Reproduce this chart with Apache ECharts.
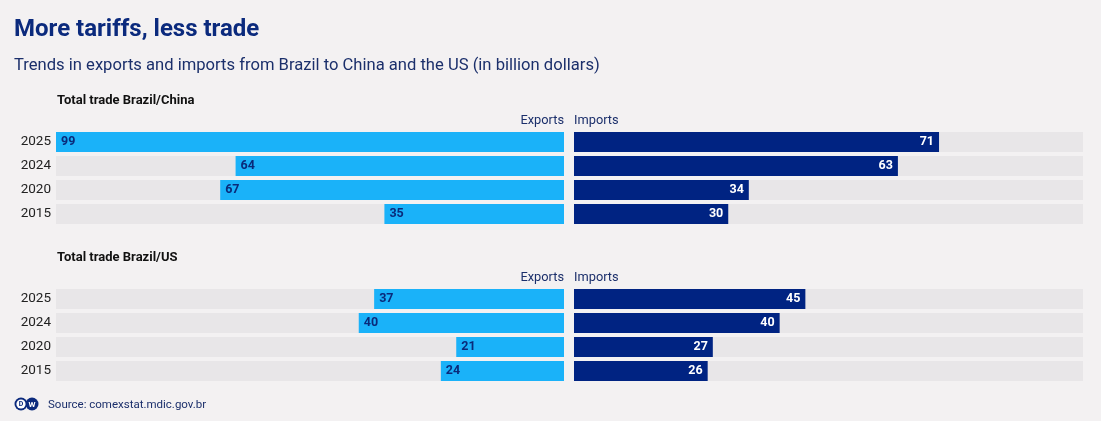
<!DOCTYPE html>
<html>
<head>
<meta charset="utf-8">
<script src="https://cdn.jsdelivr.net/npm/echarts@6/dist/echarts.min.js"></script>
<style>
  html, body { margin: 0; padding: 0; background: #f3f1f2; }
  #chart { width: 1101px; height: 421px; }
</style>
</head>
<body>
<div id="chart"></div>
<script>
// data (billion dollars)
const years = ['2025', '2024', '2020', '2015'];
const chinaExports = [99, 64, 67, 35];
const chinaImports = [71, 63, 34, 30];
const usExports = [37, 40, 21, 24];
const usImports = [45, 40, 27, 26];
const axisMax = 99;

const C = { bg: '#f3f1f2', track: '#e8e6e8', exp: '#1ab2f9', imp: '#002382', navy: '#0b2a7d', text: '#1b2f6b' };
const FONT = 'Roboto, "Noto Sans", sans-serif';

const chart = echarts.init(document.getElementById('chart'));

// two panels: china on top, us below
const panels = [{ top: 130, exp: chinaExports, imp: chinaImports }, { top: 287, exp: usExports, imp: usImports }];

const grids = [], xAxes = [], yAxes = [], series = [];
panels.forEach((p, i) => {
    grids.push({ left: 56, width: 508, top: p.top, height: 96 });
    grids.push({ left: 574, width: 509, top: p.top, height: 96 });
    [0, 1].forEach(side => {
        const gi = i * 2 + side;
        xAxes.push({ gridIndex: gi, type: 'value', min: 0, max: axisMax, inverse: side === 0, show: false });
        yAxes.push({ gridIndex: gi, type: 'category', data: years, inverse: true,
            axisLine: { show: false }, axisTick: { show: false },
            axisLabel: { show: side === 0, color: '#222', fontSize: 13.5, fontFamily: FONT, margin: 5 } });
        series.push({
            type: 'bar', xAxisIndex: gi, yAxisIndex: gi,
            data: side === 0 ? p.exp : p.imp,
            barCategoryGap: '17%',
            showBackground: true, backgroundStyle: { color: C.track },
            itemStyle: { color: side === 0 ? C.exp : C.imp },
            label: { show: true, position: side === 0 ? 'insideLeft' : 'insideRight', distance: 5,
                color: side === 0 ? '#0a2a7a' : '#fff', fontWeight: 'bold', fontSize: 12.5, fontFamily: FONT },
            silent: true, animation: false
        });
    });
});

const txt = (x, y, text, style) => ({ type: 'text', x, y, style: Object.assign({ text, fontFamily: FONT, verticalAlign: 'middle' }, style) });

chart.setOption({
    backgroundColor: C.bg,
    animation: false,
    grid: grids, xAxis: xAxes, yAxis: yAxes, series,
    graphic: [
        txt(14, 30, 'More tariffs, less trade', { fill: C.navy, fontSize: 24, fontWeight: 'bold' }),
        txt(14, 65.5, 'Trends in exports and imports from Brazil to China and the US (in billion dollars)', { fill: C.text, fontSize: 16.6 }),
        txt(57, 101, 'Total trade Brazil/China', { fill: '#111', fontSize: 13, fontWeight: 'bold' }),
        txt(564, 121, 'Exports', { fill: C.text, fontSize: 12.8, align: 'right' }),
        txt(574, 121, 'Imports', { fill: C.text, fontSize: 12.8 }),
        txt(57, 258, 'Total trade Brazil/US', { fill: '#111', fontSize: 13, fontWeight: 'bold' }),
        txt(564, 278, 'Exports', { fill: C.text, fontSize: 12.8, align: 'right' }),
        txt(574, 278, 'Imports', { fill: C.text, fontSize: 12.8 }),
        // dw logo: two joined discs
        { type: 'circle', shape: { cx: 21, cy: 404, r: 6.5 }, style: { fill: C.navy } },
        { type: 'circle', shape: { cx: 32, cy: 404, r: 6.5 }, style: { fill: C.navy } },
        { type: 'circle', shape: { cx: 21, cy: 404, r: 4.6 }, style: { fill: '#fff' } },
        txt(21, 404.5, 'D', { fill: C.navy, fontSize: 7, fontWeight: 'bold', align: 'center' }),
        txt(32, 404.5, 'W', { fill: '#fff', fontSize: 8, fontWeight: 'bold', align: 'center' }),
        txt(48, 405, 'Source: comexstat.mdic.gov.br', { fill: C.text, fontSize: 11.5 })
    ]
});
</script>
</body>
</html>
